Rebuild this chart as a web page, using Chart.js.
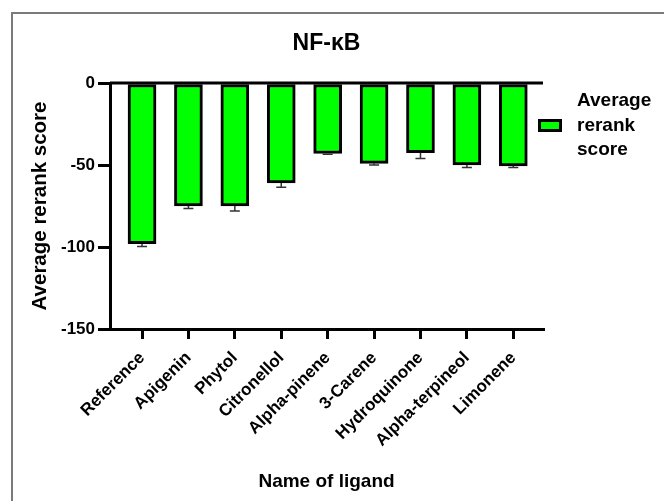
<!DOCTYPE html>
<html>
<head>
<meta charset="utf-8">
<script src="https://cdn.jsdelivr.net/npm/chart.js@4.4.1/dist/chart.umd.min.js"></script>
<style>
    html, body { margin: 0; padding: 0; background: #fff; }
    #wrap { position: relative; width: 664px; height: 501px; }
    #frame { position: absolute; left: 11px; top: 12px; right: 0; bottom: 0;
             border-left: 2px solid #7a7a7a; border-top: 2px solid #7a7a7a; }
    canvas { position: absolute; left: 0; top: 0; }
</style>
</head>
<body>
<div id="wrap">
    <div id="frame"></div>
    <canvas id="chart" width="664" height="501"></canvas>
</div>
<script>
// Données
const ligands = ['Reference', 'Apigenin', 'Phytol', 'Citronellol', 'Alpha-pinene',
                 '3-Carene', 'Hydroquinone', 'Alpha-terpineol', 'Limonene'];
const rerankScores = [-98, -75, -75, -61, -43, -49, -42.5, -50, -50.5];
const scoreErrors = [1.7, 1.5, 3, 2.5, 0.5, 1, 3.5, 1.5, 1];
const yTicks = [0, -50, -100, -150];

const chartTitle = 'NF-κB';
const legendLines = ['Average', 'rerank', 'score'];

const FONT = "'Liberation Sans', Arial, sans-serif";
const GREEN = '#00ff00';

/**
 * Barres d'erreur (vers le bas uniquement) et ligne du zéro
 */
const errorBars = {
    id: 'errorBars',
    afterDatasetsDraw(chart) {
        const ctx = chart.ctx;
        const x = chart.scales.x, y = chart.scales.y;
        ctx.save();
        ctx.strokeStyle = '#333';
        ctx.lineWidth = 1.5;
        rerankScores.forEach((v, i) => {
            const px = x.getPixelForValue(i);
            const y1 = y.getPixelForValue(v);
            const y2 = y.getPixelForValue(v - scoreErrors[i]);
            ctx.beginPath();
            ctx.moveTo(px, y1);
            ctx.lineTo(px, y2);
            ctx.moveTo(px - 5, y2);
            ctx.lineTo(px + 5, y2);
            ctx.stroke();
        });
        const y0 = y.getPixelForValue(0);
        ctx.strokeStyle = '#000';
        ctx.lineWidth = 3;
        ctx.beginPath();
        ctx.moveTo(chart.chartArea.left, y0);
        ctx.lineTo(chart.chartArea.right, y0);
        ctx.stroke();
        ctx.restore();
    }
};

/**
 * Titre et légende dessinés à la main
 */
const titleAndLegend = {
    id: 'titleAndLegend',
    afterDraw(chart) {
        const ctx = chart.ctx;
        const area = chart.chartArea;
        ctx.save();
        ctx.fillStyle = '#000';
        ctx.font = 'bold 23px ' + FONT;
        ctx.textAlign = 'center';
        ctx.textBaseline = 'alphabetic';
        ctx.fillText(chartTitle, (area.left + area.right) / 2, 50);

        // boîte de légende
        const bx = area.right - 5, by = 119;
        ctx.fillStyle = GREEN;
        ctx.fillRect(bx, by, 24, 13);
        ctx.strokeStyle = '#000';
        ctx.lineWidth = 3;
        ctx.strokeRect(bx + 1.5, by + 1.5, 21, 10);

        ctx.fillStyle = '#000';
        ctx.font = 'bold 19px ' + FONT;
        ctx.textAlign = 'left';
        legendLines.forEach((t, i) => ctx.fillText(t, 577, 106 + i * 24.7));
        ctx.restore();
    }
};

const ctx = document.getElementById('chart').getContext('2d');
new Chart(ctx, {
    type: 'bar',
    data: {
        datasets: [{
            label: 'Average rerank score',
            data: rerankScores.map((v, i) => ({ x: i, y: v })),
            backgroundColor: GREEN,
            borderColor: '#000',
            borderWidth: 3,
            borderSkipped: false,
            barThickness: 28
        }]
    },
    options: {
        responsive: false,
        animation: false,
        layout: { padding: { top: 83, right: 121, bottom: 0, left: 0 } },
        plugins: {
            legend: { display: false },
            tooltip: { enabled: false }
        },
        scales: {
            x: {
                type: 'linear',
                offset: false,
                min: -0.69,
                max: 8.64,
                afterFit: (scale) => { scale.height = 172; },
                afterBuildTicks: (scale) => {
                    scale.ticks = ligands.map((_, i) => ({ value: i }));
                },
                border: { color: '#000', width: 3 },
                grid: { offset: false, drawOnChartArea: false, color: '#000', lineWidth: 3, tickLength: 10 },
                ticks: {
                    color: '#000',
                    font: { family: FONT, size: 17, weight: 'bold' },
                    minRotation: 45,
                    maxRotation: 45,
                    padding: 9,
                    callback: (v) => ligands[v]
                },
                title: {
                    display: true,
                    text: 'Name of ligand',
                    color: '#000',
                    font: { family: FONT, size: 19, weight: 'bold' },
                    padding: { bottom: 8 }
                }
            },
            y: {
                min: -150,
                max: 0,
                afterFit: (scale) => { scale.width = 110; },
                afterBuildTicks: (scale) => {
                    scale.ticks = yTicks.map(v => ({ value: v }));
                },
                border: { color: '#000', width: 3 },
                grid: { drawOnChartArea: false, color: '#000', lineWidth: 3, tickLength: 12 },
                ticks: {
                    color: '#000',
                    font: { family: FONT, size: 17, weight: 'bold' },
                    padding: 3
                },
                title: {
                    display: true,
                    text: 'Average rerank score',
                    color: '#000',
                    font: { family: FONT, size: 20.5, weight: 'bold' },
                    padding: { top: 28 }
                }
            }
        }
    },
    plugins: [errorBars, titleAndLegend]
});
</script>
</body>
</html>
